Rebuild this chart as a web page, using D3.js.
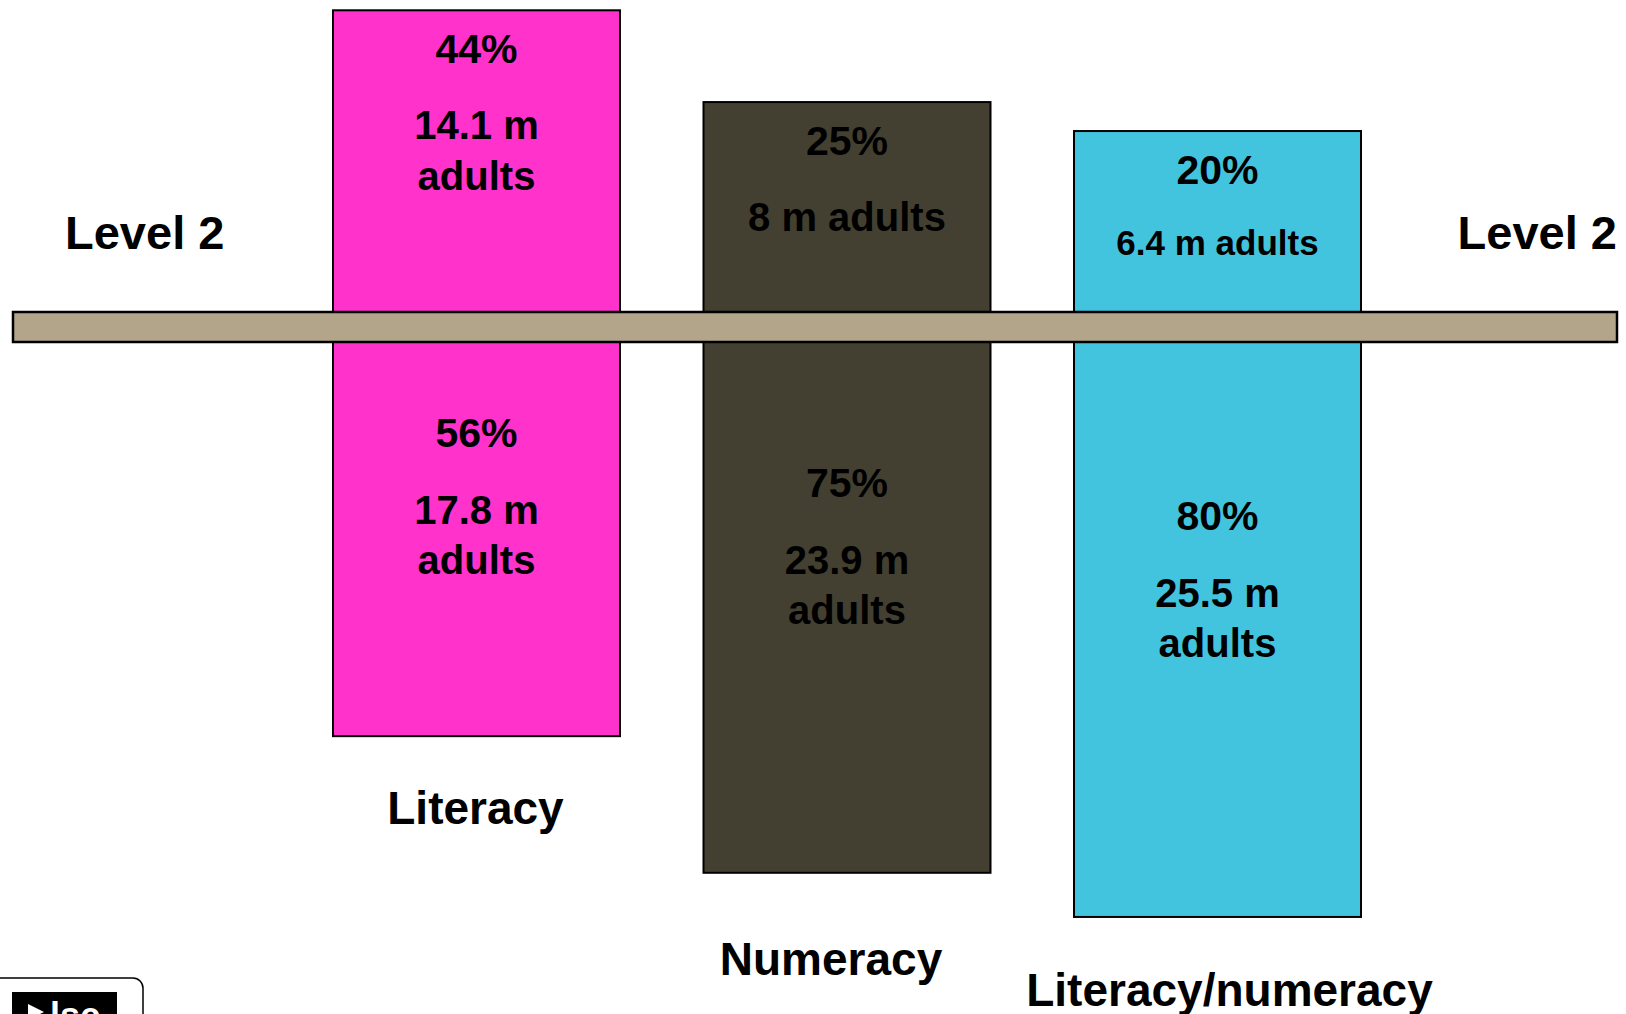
<!DOCTYPE html>
<html>
<head>
<meta charset="utf-8">
<script src="https://cdn.jsdelivr.net/npm/d3@7"></script>
<style>
  html, body { margin: 0; padding: 0; background: #fff; }
  svg text { font-family: "Liberation Sans", Arial, sans-serif; font-weight: bold; fill: #000; }
</style>
</head>
<body>
<div class="canva"></div>
<script>
// categories and labels
const categories = ["Literacy", "Numeracy", "Literacy/numeracy"];
const aboveShare = ["44%", "25%", "20%"];
const aboveAdults = [["14.1 m", "adults"], ["8 m adults"], ["6.4 m adults"]];
const belowShare = ["56%", "75%", "80%"];
const belowAdults = [["17.8 m", "adults"], ["23.9 m", "adults"], ["25.5 m", "adults"]];
const levelLabel = "Level 2";

// bar extents above / below the level line (diagram units)
const extentAbove = [45.9, 32.6, 28.4];
const extentBelow = [59.3, 79.1, 85.5];

const colors = ["#ff33cc", "#434031", "#43c4de"];

const width = 1626, height = 1014;
const lineY = 327;          // centre of the level band
const bandHalf = 15;

const svg = d3.select(".canva").append("svg")
    .attr("width", width)
    .attr("height", height);

svg.append("rect").attr("width", width).attr("height", height).attr("fill", "#fff");

// Step 1: scales
const x = d3.scaleBand()
    .domain(categories)
    .range([333, 1361])
    .paddingInner(0.2254)
    .paddingOuter(0);

const y = d3.scaleLinear()
    .domain([0, 100])
    .range([lineY, lineY - 690]);

const rows = categories.map((c, i) => ({
    cat: c,
    up: extentAbove[i],
    down: extentBelow[i],
    color: colors[i],
    i: i
}));

// Step 2: bars (one rect spanning above + below)
svg.selectAll("rect.bar")
    .data(rows)
    .enter()
    .append("rect")
    .attr("class", "bar")
    .attr("x", d => x(d.cat))
    .attr("y", d => y(d.up))
    .attr("width", x.bandwidth())
    .attr("height", d => y(-d.down) - y(d.up))
    .attr("fill", d => d.color)
    .attr("stroke", "#000")
    .attr("stroke-width", 2);

// Step 3: level band on top of bars
svg.append("rect")
    .attr("x", 13)
    .attr("y", lineY - bandHalf)
    .attr("width", 1617 - 13)
    .attr("height", bandHalf * 2)
    .attr("fill", "#b3a58a")
    .attr("stroke", "#000")
    .attr("stroke-width", 2.5);

// Step 4: labels above the line
const cx = d => x(d.cat) + x.bandwidth() / 2;

svg.selectAll("text.upPct")
    .data(rows)
    .enter()
    .append("text")
    .attr("class", "upPct")
    .attr("x", cx)
    .attr("y", d => y(d.up) + 53)
    .attr("text-anchor", "middle")
    .attr("font-size", "41px")
    .text(d => aboveShare[d.i]);

rows.forEach(d => {
    const lines = aboveAdults[d.i];
    const fs = d.i === 2 ? 35 : 40;
    const base = y(d.up) + (d.i === 2 ? 124 : 129);
    lines.forEach((t, k) => {
        svg.append("text")
            .attr("x", cx(d))
            .attr("y", base + k * 51)
            .attr("text-anchor", "middle")
            .attr("font-size", fs + "px")
            .text(t);
    });
});

// Step 5: labels below the line
const belowNudge = [7, -11, 0];
rows.forEach(d => {
    const mid = (y(0) + bandHalf + y(-d.down)) / 2;
    const pctBase = mid - 99 + belowNudge[d.i];
    svg.append("text")
        .attr("x", cx(d))
        .attr("y", pctBase)
        .attr("text-anchor", "middle")
        .attr("font-size", "41px")
        .text(belowShare[d.i]);
    belowAdults[d.i].forEach((t, k) => {
        svg.append("text")
            .attr("x", cx(d))
            .attr("y", pctBase + 77 + k * 50)
            .attr("text-anchor", "middle")
            .attr("font-size", "40px")
            .text(t);
    });
});

// Step 6: category names under the bars
const catNudge = [[-1, 88], [-16, 102], [12, 89]];
svg.selectAll("text.cat")
    .data(rows)
    .enter()
    .append("text")
    .attr("class", "cat")
    .attr("x", d => cx(d) + catNudge[d.i][0])
    .attr("y", d => y(-d.down) + catNudge[d.i][1])
    .attr("text-anchor", "middle")
    .attr("font-size", "46px")
    .text(d => d.cat);

// Step 7: "Level 2" on both sides
svg.append("text")
    .attr("x", 65)
    .attr("y", lineY - 78)
    .attr("font-size", "47px")
    .text(levelLabel);

svg.append("text")
    .attr("x", 1617)
    .attr("y", lineY - 78)
    .attr("text-anchor", "end")
    .attr("font-size", "47px")
    .text(levelLabel);

// Step 8: logo fragment, bottom left
svg.append("rect")
    .attr("x", -12)
    .attr("y", 978)
    .attr("width", 155)
    .attr("height", 60)
    .attr("rx", 10)
    .attr("fill", "#fff")
    .attr("stroke", "#000")
    .attr("stroke-width", 1.5);

svg.append("rect")
    .attr("x", 12)
    .attr("y", 992)
    .attr("width", 105)
    .attr("height", 30)
    .attr("fill", "#000");

svg.append("path")
    .attr("d", "M28,1004 L44,1012 L28,1020 Z")
    .attr("fill", "#fff");

svg.append("text")
    .attr("x", 50)
    .attr("y", 1028)
    .attr("font-size", "36px")
    .style("fill", "#fff")
    .text("lsc");
</script>
</body>
</html>
